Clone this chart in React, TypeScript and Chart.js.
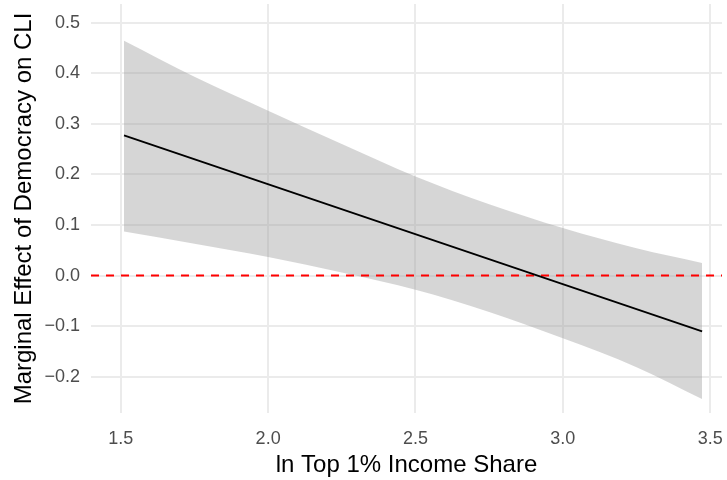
import React, { useEffect, useRef } from "react";
import { Chart, registerables } from "chart.js";

Chart.register(...registerables);

// Marginal effect of democracy on CLI across ln top 1% income share
const bandX = [1.511, 1.75, 2.0, 2.25, 2.5, 2.75, 3.0, 3.25, 3.4725];
const upperValues = [0.464, 0.393, 0.326, 0.26, 0.196, 0.141, 0.094, 0.054, 0.025];
const lowerValues = [0.087, 0.063, 0.037, 0.006, -0.028, -0.072, -0.124, -0.181, -0.244];
const effectX = [1.511, 3.4725];
const effectValues = [0.277, -0.11];
const referenceValue = 0;

const xTicks = [1.5, 2.0, 2.5, 3.0, 3.5];
const yTicks = [-0.2, -0.1, 0.0, 0.1, 0.2, 0.3, 0.4, 0.5];
const xRange = [1.399, 3.54];
const yRange = [-0.2715, 0.5368];

const xTitle = "ln Top 1% Income Share";
const yTitle = "Marginal Effect of Democracy on CLI";

const FONT = "'Liberation Sans', Arial, Helvetica, sans-serif";

const fmt = (v: number) => (v < 0 ? "\u2212" : "") + Math.abs(v).toFixed(1);

// keep the plot panel edge-to-edge: no extra room for overhanging tick labels
const noPadding = (s: any) => {
  s.paddingTop = 0;
  s.paddingBottom = 0;
  s.paddingLeft = 0;
  s.paddingRight = 0;
};

export default function App() {
  const ref = useRef<HTMLCanvasElement | null>(null);

  useEffect(() => {
    if (!ref.current) return;
    const pts = (xs: number[], ys: number[]) => xs.map((x, i) => ({ x, y: ys[i] }));

    const chart = new Chart(ref.current, {
      type: "line",
      data: {
        datasets: [
          {
            label: "effect",
            data: pts(effectX, effectValues),
            borderColor: "#000000",
            borderWidth: 1.8,
            pointRadius: 0,
            fill: false,
            order: 0,
          },
          {
            label: "zero",
            data: pts(xRange, [referenceValue, referenceValue]),
            borderColor: "#FF0000",
            borderWidth: 2,
            borderDash: [8, 7],
            pointRadius: 0,
            fill: false,
            order: 1,
          },
          {
            label: "upper",
            data: pts(bandX, upperValues),
            borderWidth: 0,
            borderColor: "rgba(0,0,0,0)",
            backgroundColor: "rgba(153,153,153,0.4)",
            pointRadius: 0,
            cubicInterpolationMode: "monotone",
            fill: "+1",
            order: 2,
          },
          {
            label: "lower",
            data: pts(bandX, lowerValues),
            borderWidth: 0,
            borderColor: "rgba(0,0,0,0)",
            pointRadius: 0,
            cubicInterpolationMode: "monotone",
            fill: false,
            order: 3,
          },
        ],
      },
      options: {
        animation: false,
        responsive: false,
        maintainAspectRatio: false,
        layout: { padding: { left: 0, top: 4, right: 5, bottom: 0 } },
        plugins: {
          legend: { display: false },
          tooltip: { enabled: false },
        },
        scales: {
          x: {
            type: "linear",
            min: xRange[0],
            max: xRange[1],
            afterBuildTicks: (s: any) => {
              s.ticks = xTicks.map((v) => ({ value: v }));
            },
            afterFit: (s: any) => {
              s.height = 67;
              noPadding(s);
            },
            grid: { color: "#EBEBEB", lineWidth: 2, drawTicks: false },
            border: { display: false },
            ticks: {
              color: "#4D4D4D",
              font: { family: FONT, size: 18 },
              padding: 15,
              maxRotation: 0,
              callback: (v: any) => fmt(Number(v)),
            },
            title: {
              display: true,
              text: xTitle,
              color: "#000000",
              font: { family: FONT, size: 24 },
              padding: { top: 0, bottom: 0 },
            },
          },
          y: {
            type: "linear",
            min: yRange[0],
            max: yRange[1],
            afterBuildTicks: (s: any) => {
              s.ticks = yTicks.map((v) => ({ value: v }));
            },
            afterFit: (s: any) => {
              s.width = 91;
              noPadding(s);
            },
            grid: { color: "#EBEBEB", lineWidth: 2, drawTicks: false },
            border: { display: false },
            ticks: {
              color: "#4D4D4D",
              font: { family: FONT, size: 18 },
              padding: 11,
              callback: (v: any) => fmt(Number(v)),
            },
            title: {
              display: true,
              text: yTitle,
              color: "#000000",
              font: { family: FONT, size: 24 },
              padding: { top: 10, bottom: 0 },
            },
          },
        },
      },
    });
    return () => chart.destroy();
  }, []);

  return (
    <div style={{ position: "fixed", left: 0, top: 0, width: 727, height: 480, background: "#ffffff" }}>
      <canvas ref={ref} width={727} height={480} style={{ display: "block" }} />
    </div>
  );
}
